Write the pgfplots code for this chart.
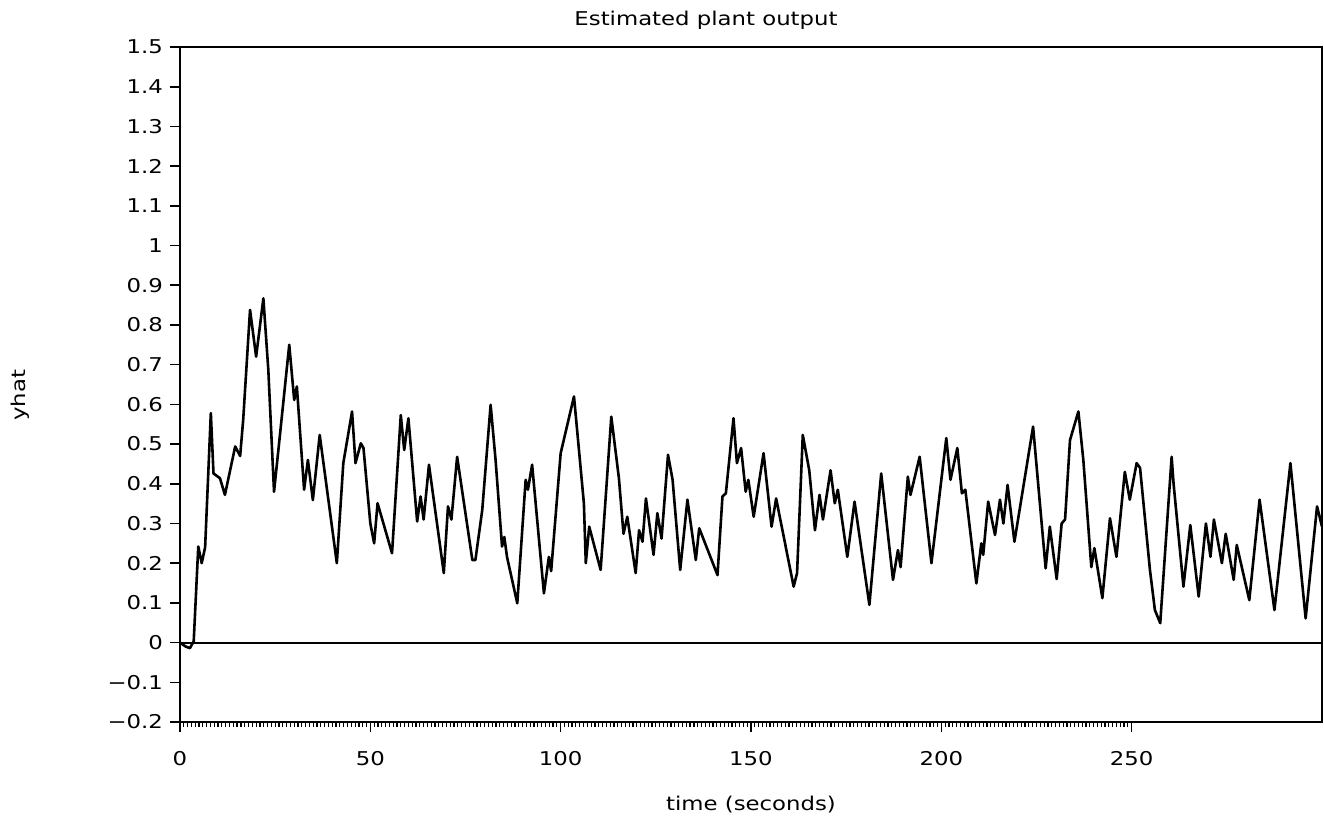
\documentclass[border=0pt]{standalone}
\usepackage{pgfplots}
\pgfplotsset{compat=1.18}
\usepackage{fontspec}
\setmainfont{DejaVu Sans}[FakeStretch=1.2]
\begin{document}
\begin{tikzpicture}
\begin{axis}[
  scale only axis, width=571pt, height=337.5pt,
  xmin=0, xmax=300, ymin=-0.2, ymax=1.5,
  axis line style={line width=1pt},
  xtick={0,50,100,150,200,250},
  xticklabels={0,50,100,150,200,250},
  minor x tick num=49,
  ytick={-0.2,-0.1,0,0.1,0.2,0.3,0.4,0.5,0.6,0.7,0.8,0.9,1,1.1,1.2,1.3,1.4,1.5},
  yticklabels={−0.2,−0.1,0,0.1,0.2,0.3,0.4,0.5,0.6,0.7,0.8,0.9,1,1.1,1.2,1.3,1.4,1.5},
  tick align=outside, major tick length=5pt, minor tick length=2.5pt,
  tick style={black, line width=0.8pt},
  minor tick style={black, line width=0.6pt},
  xtick pos=bottom, ytick pos=left,
  tick label style={font=\fontsize{9.5}{11}\selectfont},
  xticklabel style={yshift=-6pt},
  title={Estimated plant output},
  title style={at={(0.4606,1)}, anchor=south, yshift=-1pt, font=\fontsize{9.5}{11}\selectfont},
  xlabel={time (seconds)},
  xlabel style={at={(axis description cs:0.5,0)}, anchor=center, yshift=-41.5pt, font=\fontsize{9.5}{11}\selectfont},
  ylabel={yhat},
  ylabel style={at={(axis description cs:-0.14,0.484)}, anchor=center, font=\fontsize{9.5}{11}\selectfont},
  extra y ticks={0}, extra y tick labels={},
  extra y tick style={grid=major, major grid style={black, line width=1pt}, major tick length=0pt},
  clip=true,
]
\addplot[black, line width=1.3pt, line join=round] coordinates {
(0,0) (1.5,-0.01) (2.6,-0.014) (3.6,0.003) (4.8,0.242) (5.7,0.2) (6.6,0.24)
(8.1,0.578) (8.8,0.426) (10.5,0.414) (11.8,0.372) (14.5,0.494) (15.8,0.47)
(16.6,0.561) (18.4,0.838) (20.0,0.72) (21.9,0.867) (23.2,0.687) (24.7,0.38)
(26.3,0.527) (28.7,0.75) (30.0,0.611) (30.7,0.645) (32.6,0.385) (33.6,0.46)
(34.9,0.359) (36.7,0.523) (41.2,0.2) (42.9,0.452) (45.2,0.582) (46.1,0.452)
(47.5,0.502) (48.2,0.49) (50.0,0.30) (51.0,0.25) (51.9,0.351) (55.7,0.225)
(58.0,0.573) (58.9,0.485) (60.0,0.565) (62.3,0.305) (63.2,0.368) (64.0,0.31)
(65.4,0.448) (69.3,0.175) (70.4,0.343) (71.3,0.31) (72.8,0.468) (76.8,0.208)
(77.6,0.208) (79.4,0.334) (81.6,0.599) (82.9,0.46) (84.6,0.242) (85.2,0.266)
(85.9,0.216) (88.6,0.099) (90.8,0.41) (91.4,0.385) (92.5,0.448) (95.6,0.124)
(96.9,0.216) (97.5,0.18) (100.0,0.477) (103.5,0.62) (106.1,0.351) (106.6,0.2)
(107.5,0.292) (110.5,0.183) (113.3,0.569) (115.3,0.414) (116.5,0.274)
(117.5,0.317) (119.7,0.175) (120.6,0.283) (121.5,0.254) (122.4,0.363)
(124.4,0.221) (125.4,0.326) (126.5,0.262) (128.2,0.473) (129.4,0.41)
(131.4,0.183) (133.3,0.36) (135.5,0.208) (136.4,0.288) (141.2,0.17)
(142.5,0.368) (143.4,0.376) (145.4,0.565) (146.3,0.452) (147.4,0.49)
(148.6,0.38) (149.3,0.41) (150.7,0.317) (153.3,0.477) (155.4,0.292)
(156.6,0.363) (161.2,0.141) (162.1,0.175) (163.6,0.523) (165.3,0.434)
(166.8,0.283) (168.0,0.372) (168.9,0.31) (170.9,0.434) (172.0,0.351)
(172.8,0.385) (175.3,0.216) (177.2,0.355) (181.1,0.095) (184.2,0.426)
(187.3,0.158) (188.6,0.233) (189.3,0.19) (191.2,0.418) (191.9,0.372)
(194.3,0.468) (197.4,0.2) (201.3,0.515) (202.4,0.41) (204.2,0.49)
(205.4,0.376) (206.3,0.385) (209.2,0.149) (210.5,0.25) (211.0,0.221)
(212.3,0.355) (214.1,0.271) (215.4,0.36) (216.3,0.3) (217.4,0.397)
(219.2,0.254) (224.1,0.544) (227.4,0.187) (228.5,0.292) (230.3,0.16)
(231.6,0.3) (232.5,0.31) (233.8,0.51) (236.0,0.582) (237.3,0.46)
(239.4,0.19) (240.2,0.238) (242.3,0.112) (244.3,0.313) (246.0,0.216)
(248.2,0.43) (249.5,0.36) (251.3,0.452) (252.2,0.44) (254.8,0.183)
(256.1,0.082) (257.5,0.049) (260.5,0.468) (261.0,0.401) (263.6,0.141)
(265.4,0.296) (267.6,0.116) (269.5,0.3) (270.7,0.216) (271.6,0.31)
(273.7,0.2) (274.7,0.274) (276.8,0.158) (277.6,0.246) (280.9,0.107)
(283.6,0.36) (287.5,0.082) (291.7,0.452) (295.7,0.061) (298.7,0.343)
(300.0,0.292)
};
\end{axis}
\path (current axis.south west) ++(-90pt,-48pt) coordinate (bbsw);
\path (current axis.north east) ++(1pt,23.5pt) coordinate (bbne);
\path (bbsw) rectangle (bbne);
\end{tikzpicture}
\end{document}
